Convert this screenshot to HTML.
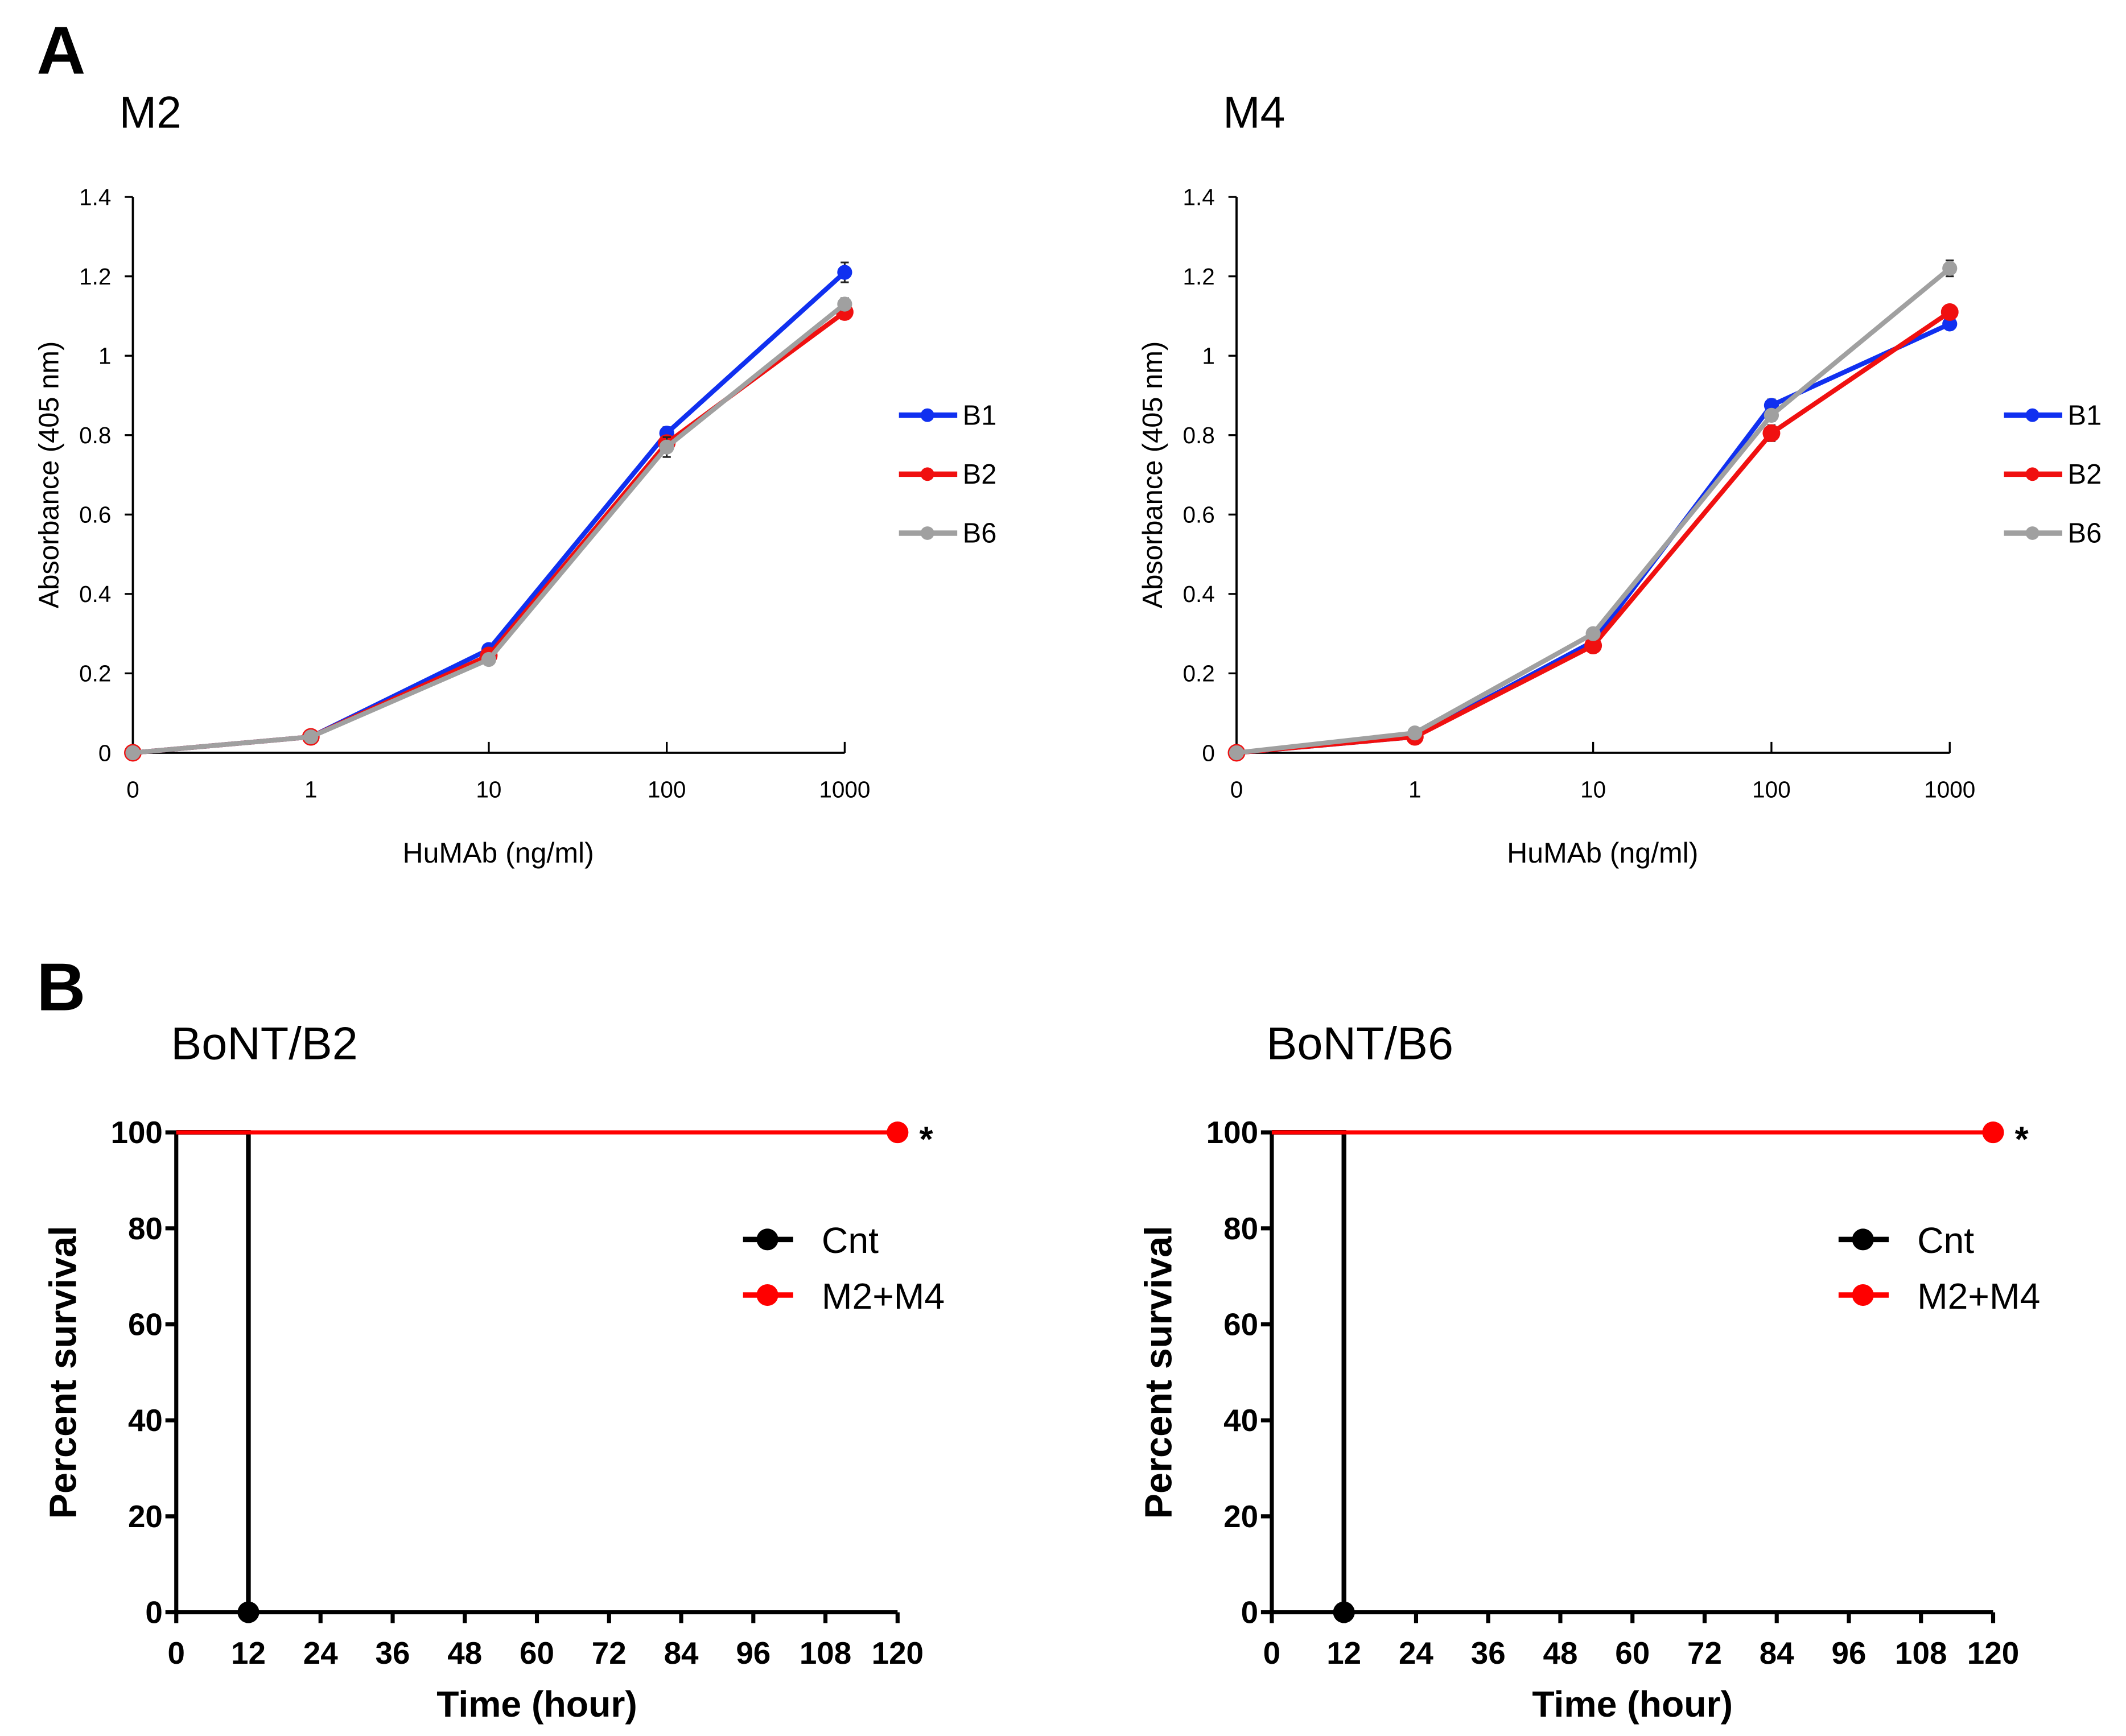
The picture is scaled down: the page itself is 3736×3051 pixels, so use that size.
<!DOCTYPE html>
<html><head><meta charset="utf-8"><style>
html,body{margin:0;padding:0;background:#fff;}
svg{display:block;}
text{font-family:"Liberation Sans",Arial,sans-serif;}
</style></head><body>
<svg id="fig" width="3736" height="3051" viewBox="0 0 1568 1280" xmlns="http://www.w3.org/2000/svg">
<rect width="1568" height="1280" fill="#fff"/>
<text x="27" y="54" font-size="50" font-weight="bold">A</text>
<text x="27" y="745" font-size="50" font-weight="bold">B</text>
<g id="g"></g>
</svg>
<script>
const doseCats = ["0","1","10","100","1000"];
const yTicksA = [0,0.2,0.4,0.6,0.8,1,1.2,1.4];
const yTickLabelsA = ["0","0.2","0.4","0.6","0.8","1","1.2","1.4"];
const seriesNames = ["B1","B2","B6"];
const m2B1 = [0,0.04,0.26,0.805,1.21];
const m2B2 = [0,0.04,0.245,0.78,1.11];
const m2B6 = [0,0.04,0.235,0.77,1.13];
const m2Err = [[0,0,0,0.015,0.025],[0,0,0,0.015,0.015],[0,0,0,0.025,0.015]];
const m4B1 = [0,0.04,0.28,0.875,1.08];
const m4B2 = [0,0.04,0.27,0.805,1.11];
const m4B6 = [0,0.05,0.30,0.85,1.22];
const m4Err = [[0,0,0,0.015,0.01],[0,0,0.015,0.02,0.015],[0,0,0.01,0.015,0.02]];
const timeTicks = [0,12,24,36,48,60,72,84,96,108,120];
const survTicks = [0,20,40,60,80,100];
const cntTime = [0,12,12];
const cntSurv = [100,100,0];
const trtTime = [0,120];
const trtSurv = [100,100];

const NS="http://www.w3.org/2000/svg";
const G=document.getElementById('g');
function mk(tag,attrs,parent,txt){const e=document.createElementNS(NS,tag);for(const k in attrs)e.setAttribute(k,attrs[k]);if(txt!==undefined)e.textContent=txt;(parent||G).appendChild(e);return e;}

function elisa(ox,title,data,errs){
  const x0=ox, xStep=(ox===98?131.25:131.5), yb=555, yt=145;
  const X=i=>x0+i*xStep, Y=v=>yb-(v/1.4)*(yb-yt);
  const g=mk('g',{});
  
  
  const t=mk('text',{x:ox-10,y:94,'font-size':33},g,title);
  
  
  mk('line',{x1:x0,y1:yt,x2:x0,y2:yb,stroke:'#000','stroke-width':1.6},g);
  mk('line',{x1:x0,y1:yb,x2:X(4),y2:yb,stroke:'#000','stroke-width':1.6},g);
  yTicksA.forEach((v,i)=>{
    mk('line',{x1:x0-6,y1:Y(v),x2:x0,y2:Y(v),stroke:'#000','stroke-width':1.4},g);
    const l=mk('text',{x:x0-16,y:Y(v)+6,'font-size':17,'text-anchor':'end'},g,yTickLabelsA[i]);
    
    
  });
  doseCats.forEach((c,i)=>{
    if(i>=2) mk('line',{x1:X(i),y1:yb,x2:X(i),y2:yb-8,stroke:'#000','stroke-width':1.4},g);
    const l=mk('text',{x:X(i),y:588,'font-size':17,'text-anchor':'middle'},g,c);
    
    
  });
  const xt=mk('text',{x:(x0+X(4))/2+7,y:636,'font-size':21,'text-anchor':'middle'},g,'HuMAb (ng/ml)');
  
  
  const yt2=mk('text',{x:0,y:0,'font-size':20.5,'text-anchor':'middle',transform:`translate(${ox-55},350) rotate(-90)`},g,'Absorbance (405 nm)');
  
  
  const cols=['#1030f0','#f01010','#a0a0a0'];
  data.forEach((s,k)=>{
    const sg=mk('g',{},g);
    
    
    s.forEach((v,i)=>{ if(errs[k][i]>0){
      mk('line',{x1:X(i),y1:Y(v-errs[k][i]),x2:X(i),y2:Y(v+errs[k][i]),stroke:'#222','stroke-width':1.3},sg);
      mk('line',{x1:X(i)-3,y1:Y(v+errs[k][i]),x2:X(i)+3,y2:Y(v+errs[k][i]),stroke:'#222','stroke-width':1.3},sg);
      mk('line',{x1:X(i)-3,y1:Y(v-errs[k][i]),x2:X(i)+3,y2:Y(v-errs[k][i]),stroke:'#222','stroke-width':1.3},sg);
    }});
    mk('polyline',{points:s.map((v,i)=>X(i)+','+Y(v)).join(' '),fill:'none',stroke:cols[k],'stroke-width':3.5},sg);
    s.forEach((v,i)=>{
      const p=mk('circle',{cx:X(i),cy:Y(v),r:k===1?6.5:5.5,fill:cols[k]},sg);
      
      
    });
    const ly=306+k*43.5, lx=X(4)+40;
    const le=mk('g',{},g);
    
    
    mk('line',{x1:lx,y1:ly,x2:lx+43,y2:ly,stroke:cols[k],'stroke-width':4},le);
    mk('circle',{cx:lx+21,cy:ly,r:5,fill:cols[k]},le);
    mk('text',{x:lx+47,y:ly+7,'font-size':20.5},le,seriesNames[k]);
  });
}
elisa(98,'M2',[m2B1,m2B2,m2B6],m2Err);
elisa(912,'M4',[m4B1,m4B2,m4B6],m4Err);

function surv(ox,title){
  const x0=ox, x1=ox+532, yb=1189, yt=835;
  const X=t=>x0+t/120*(x1-x0), Y=v=>yb-v/100*(yb-yt);
  const g=mk('g',{});
  
  
  const t=mk('text',{x:ox-4,y:781,'font-size':34},g,title);
  
  
  mk('line',{x1:x0,y1:yt,x2:x0,y2:yb,stroke:'#000','stroke-width':3},g);
  mk('line',{x1:x0,y1:yb,x2:x1,y2:yb,stroke:'#000','stroke-width':3},g);
  survTicks.forEach(v=>{
    mk('line',{x1:x0-8,y1:Y(v),x2:x0,y2:Y(v),stroke:'#000','stroke-width':3},g);
    const l=mk('text',{x:x0-10,y:Y(v)+8,'font-size':23,'font-weight':'bold','text-anchor':'end'},g,String(v));
    
    
  });
  timeTicks.forEach(v=>{
    mk('line',{x1:X(v),y1:yb,x2:X(v),y2:yb+8,stroke:'#000','stroke-width':3},g);
    const l=mk('text',{x:X(v),y:1227,'font-size':23,'font-weight':'bold','text-anchor':'middle'},g,String(v));
    
    
  });
  const xt=mk('text',{x:(x0+x1)/2,y:1266,'font-size':27,'font-weight':'bold','text-anchor':'middle'},g,'Time (hour)');
  
  
  const yt2=mk('text',{x:0,y:0,'font-size':28,'font-weight':'bold','text-anchor':'middle',transform:`translate(${ox-74},1012) rotate(-90)`},g,'Percent survival');
  
  
  const cg=mk('g',{},g);
  
  
  mk('polyline',{points:cntTime.map((t,i)=>X(t)+','+Y(cntSurv[i])).join(' '),fill:'none',stroke:'#000','stroke-width':3.5},cg);
  mk('circle',{cx:X(cntTime[2]),cy:Y(cntSurv[2]),r:8,fill:'#000'},cg);
  const rg=mk('g',{},g);
  
  
  mk('polyline',{points:trtTime.map((t,i)=>X(t)+','+Y(trtSurv[i])).join(' '),fill:'none',stroke:'#f00','stroke-width':3},rg);
  mk('circle',{cx:X(trtTime[1]),cy:Y(trtSurv[1]),r:8,fill:'#f00'},rg);
  const st=mk('text',{x:X(120)+16,y:Y(100)+14,'font-size':26,'font-weight':'bold'},g,'*');
  
  
  const lx=ox+418;
  [['Cnt','#000',914],['M2+M4','#f00',955]].forEach(([n,c,y])=>{
    const le=mk('g',{},g);
    
    
    mk('line',{x1:lx,y1:y,x2:lx+37,y2:y,stroke:c,'stroke-width':4},le);
    mk('circle',{cx:lx+18,cy:y,r:8,fill:c},le);
    mk('text',{x:lx+58,y:y+10,'font-size':27},le,n);
  });
}
surv(130,'BoNT/B2');
surv(938,'BoNT/B6');
</script>
</body></html>
